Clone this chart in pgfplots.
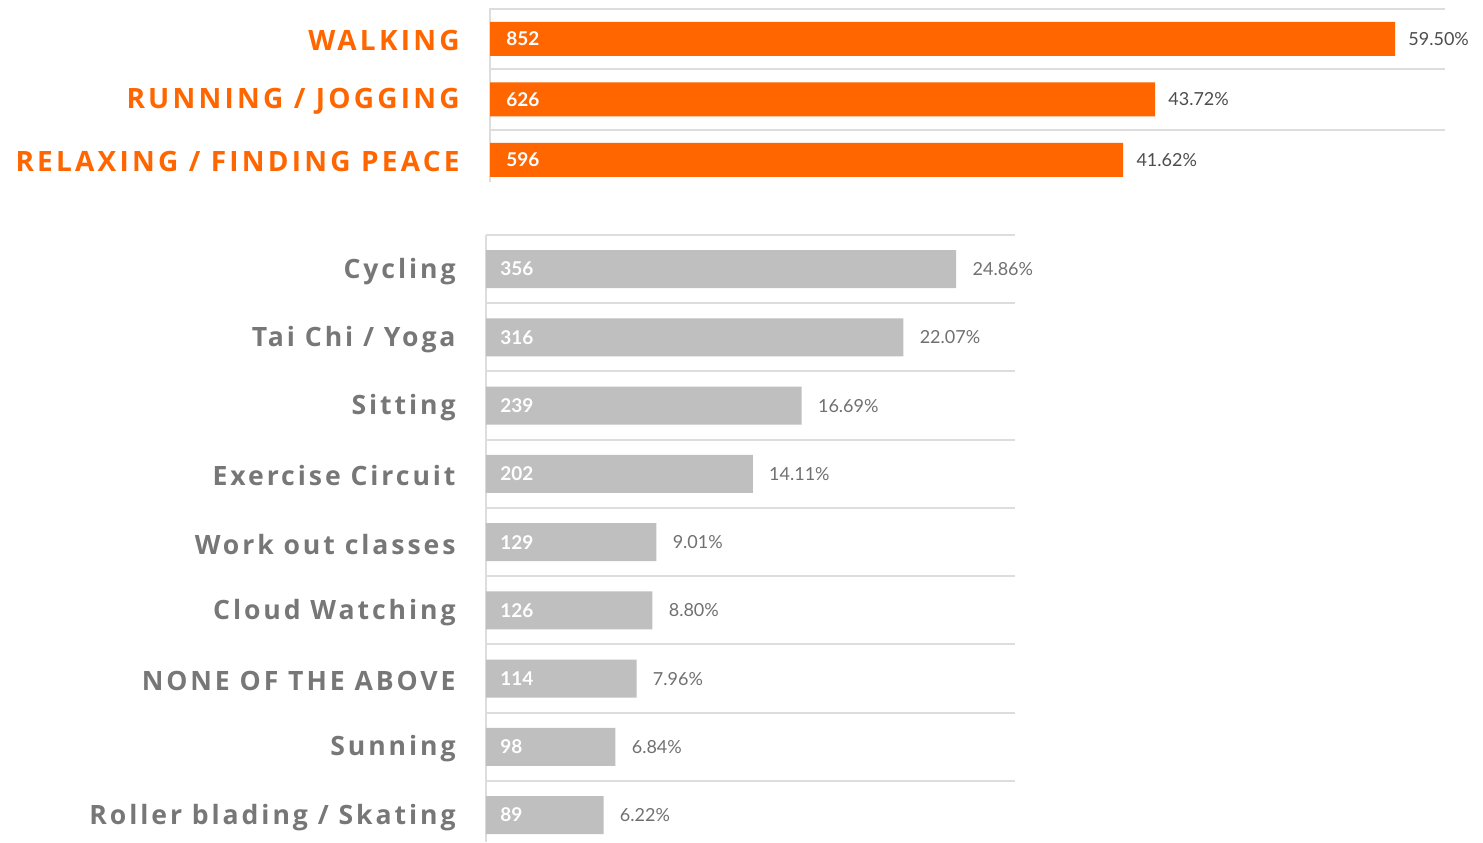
\documentclass[border=0pt]{standalone}
\usepackage{pgfplots}
\pgfplotsset{compat=1.18}
\usepackage{pgfplotstable}
\usepackage{fontspec}
\setmainfont{Lato}
\newfontfamily\catfont[LetterSpace=11]{Open Sans}
\newfontfamily\topfont[LetterSpace=11.5]{Open Sans}
\definecolor{orangeA}{HTML}{FF6600}
\definecolor{barGray}{HTML}{BFBFBF}
\definecolor{gridGray}{HTML}{DDDDDD}
\definecolor{catGray}{HTML}{777777}
\definecolor{pctDark}{HTML}{4D4D4D}
\definecolor{pctGray}{HTML}{707070}

\pgfplotstableread{
y z cnt pct
0 0 852 59.50
1 0 626 43.72
2 0 596 41.62
}\topdata

\pgfplotstableread{
y z cnt pct
0 0 356 24.86
1 0 316 22.07
2 0 239 16.69
3 0 202 14.11
4 0 129 9.01
5 0 126 8.80
6 0 114 7.96
7 0 98 6.84
8 0 89 6.22
}\botdata

\pgfplotsset{
  common/.style={
    scale only axis, anchor=south west, clip=false,
    y dir=reverse, xmin=0,
    axis line style={draw=none}, major tick length=0pt,
    xtick=\empty,
    extra x ticks={0}, extra x tick labels={},
    extra x tick style={grid=major, major grid style={gridGray, line width=1pt}},
    extra y tick labels={},
    extra y tick style={grid=major, major grid style={gridGray, line width=1pt}},
  },
  pctbar/.style={xbar, bar shift=0pt, draw=none,
    nodes near coords={\pgfplotspointmeta\%}, point meta=explicit symbolic},
  cntbar/.style={xbar, bar shift=0pt, draw=none, fill=none,
    nodes near coords={\pgfplotspointmeta}, point meta=explicit symbolic,
    nodes near coords style={font=\bfseries\fontsize{9.5}{11}\selectfont, text=white, anchor=west, inner sep=0pt, xshift=#1}},
}

\begin{document}
\begin{tikzpicture}
\useasboundingbox (0,0) rectangle (741.5pt,421pt);
% top axis
\begin{axis}[common,
  at={(245pt,330pt)}, width=477.5pt, height=87pt,
  xmax=899, ymin=-0.51, ymax=2.366,
  ytick={0,1,2},
  yticklabels={WALKING, RUNNING / JOGGING, RELAXING / FINDING PEACE},
  yticklabel style={font=\topfont\bfseries\fontsize{14}{16}\selectfont, text=orangeA, anchor=east, inner sep=0pt, xshift=-15pt, yshift=-1pt},
  extra y ticks={-0.5,0.5,1.5},
]
\addplot[pctbar, bar width=0.56, fill=orangeA,
  nodes near coords style={font=\fontsize{9}{11}\selectfont, text=pctDark, anchor=west, inner sep=0pt, xshift=6.5pt}]
  table[x=cnt, y=y, meta=pct] {\topdata};
\addplot[cntbar=8pt, bar width=0.56] table[x=z, y=y, meta=cnt] {\topdata};
\end{axis}
% bottom axis
\begin{axis}[common,
  at={(243pt,0pt)}, width=264.5pt, height=303.5pt,
  xmax=400.5, ymin=-0.5, ymax=8.394,
  ytick={0,...,8},
  yticklabels={Cycling, Tai Chi / Yoga, Sitting, Exercise Circuit, Work out classes, Cloud Watching, NONE OF THE ABOVE, Sunning, Roller blading / Skating},
  yticklabel style={font=\catfont\bfseries\fontsize{13.3}{15}\selectfont, text=catGray, anchor=east, inner sep=0pt, xshift=-15pt, yshift=-1pt},
  extra y ticks={-0.5,0.5,1.5,2.5,3.5,4.5,5.5,6.5,7.5},
]
\addplot[pctbar, bar width=0.557, fill=barGray,
  nodes near coords style={font=\fontsize{9}{11}\selectfont, text=pctGray, anchor=west, inner sep=0pt, xshift=8pt}]
  table[x=cnt, y=y, meta=pct] {\botdata};
\addplot[cntbar=7pt, bar width=0.557] table[x=z, y=y, meta=cnt] {\botdata};
\end{axis}
\end{tikzpicture}
\end{document}
